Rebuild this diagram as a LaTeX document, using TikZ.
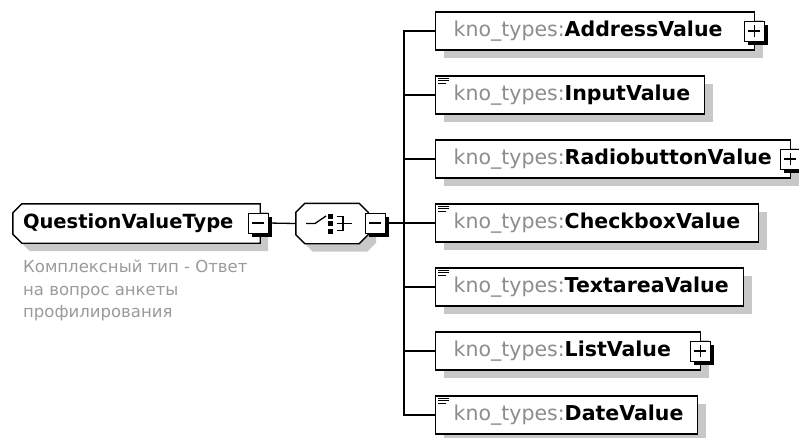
\documentclass[tikz,border=0pt]{standalone}
\usepackage{fontspec}
\setmainfont{DejaVu Sans}
\usepackage{tikz}
\usetikzlibrary{positioning,shadows,backgrounds}

\definecolor{nsgray}{HTML}{8C8C8C}
\definecolor{docgray}{HTML}{9A9A9A}
\definecolor{shadegray}{HTML}{C8C8C8}

\newcommand{\kno}[1]{{\color{nsgray}kno\_types:}\textbf{#1}}

\tikzset{
  boxshadow/.style={drop shadow={shadow xshift=8pt, shadow yshift=-8pt, fill=shadegray, opacity=1}},
  elem/.style={draw, line width=1.4pt, fill=white, anchor=west, minimum height=38pt,
    inner xsep=18pt, align=left, font=\fontsize{20.5}{24}\selectfont, boxshadow},
  simple/.style={path picture={
      \foreach \dd/\len in {2.6/11,4.9/11,7.2/8}
        \draw[line width=1.1pt] ([xshift=2.5pt,yshift=-\dd pt]path picture bounding box.north west) -- ++(\len pt,0);}},
  ctype/.style={minimum height=39pt, inner xsep=10pt, align=left, font=\fontsize{19.5}{23}\selectfont\bfseries},
  seqbox/.style={minimum width=72pt, minimum height=40pt, inner sep=0pt},
  outline/.style={draw, line width=1.4pt, fill=white, boxshadow},
  expander/.style={draw, line width=1pt, fill=white, minimum size=20pt, inner sep=0pt,
    drop shadow={shadow xshift=3.5pt, shadow yshift=-3.5pt, fill=black, opacity=1}},
  minusbox/.style={expander, path picture={
      \draw[line width=1.2pt] ([xshift=-6pt]path picture bounding box.center) -- ([xshift=6pt]path picture bounding box.center);}},
  plusbox/.style={expander, path picture={
      \draw[line width=1.2pt] ([xshift=-6pt]path picture bounding box.center) -- ([xshift=6pt]path picture bounding box.center);
      \draw[line width=1.2pt] ([yshift=-6pt]path picture bounding box.center) -- ([yshift=6pt]path picture bounding box.center);}},
  doc/.style={text=docgray, align=left, inner sep=0pt, font=\fontsize{16.5}{22.5}\selectfont},
  link/.style={line width=1.3pt}
}

\begin{document}
\begin{tikzpicture}[x=1pt, y=-1pt]

\useasboundingbox (0,0) rectangle (799,437);

% complex type
\node[ctype, minimum width=247pt, text width=227pt] (qvt) at (136.5,223.5) {QuestionValueType};
\begin{scope}[on background layer]
\draw[outline] ([xshift=9pt]qvt.north west) -- (qvt.north east) -- (qvt.south east)
  -- ([xshift=9pt]qvt.south west) -- ([yshift=9pt]qvt.south west) -- ([yshift=-9pt]qvt.north west) -- cycle;
\end{scope}
\node[minusbox] (qvtminus) at (258,223) {};
\node[doc, anchor=north west] (qvtdoc) at (23,260) {Комплексный тип - Ответ\\на вопрос анкеты\\профилирования};

% sequence
\node[seqbox] (seq) at (332,223.5) {};
\begin{scope}[on background layer]
\draw[outline] ([xshift=9pt]seq.north west) -- ([xshift=-9pt]seq.north east) -- ([yshift=-9pt]seq.north east)
  -- ([yshift=9pt]seq.south east) -- ([xshift=-9pt]seq.south east) -- ([xshift=9pt]seq.south west)
  -- ([yshift=9pt]seq.south west) -- ([yshift=-9pt]seq.north west) -- cycle;
\end{scope}
\begin{scope}[shift={(seq.center)}]
\draw[line width=1.3pt] (-26,0) -- (-17,0) -- (-6,-7.5);
\foreach \dy in {-7.5,0,7.5}
  \fill (-3.7,\dy-2.5) rectangle (1.3,\dy+2.5);
\draw[line width=1.3pt] (4.5,-7) -- (11,-7) (4.5,0) -- (19.5,0) (4.5,7) -- (11,7) (11,-7.6) -- (11,7.6);
\end{scope}
\node[minusbox] (seqminus) at (375,223) {};
\coordinate (spine) at (404,223);

%%%%%%%%%%%%%%%%%%%%%%%%%%%%%%%%

\node[elem, text width=283pt] (addr) at (435,31) {\kno{AddressValue}};
\node[elem, simple, text width=233pt] (input) at (435,95) {\kno{InputValue}};
\node[elem, text width=319pt] (radio) at (435,159) {\kno{RadiobuttonValue}};
\node[elem, simple, text width=287pt] (check) at (435,223) {\kno{CheckboxValue}};
\node[elem, simple, text width=272pt] (textarea) at (435,287) {\kno{TextareaValue}};
\node[elem, text width=229pt] (list) at (435,351) {\kno{ListValue}};
\node[elem, simple, text width=226pt] (date) at (435,415) {\kno{DateValue}};

\node[plusbox] (addrplus) at ([xshift=-1pt]addr.east) {};
\node[plusbox] (radioplus) at ([xshift=-1pt]radio.east) {};
\node[plusbox] (listplus) at ([xshift=-1pt]list.east) {};

%%%%%%%%%%%%%%%%%%%%%%%%%%%%%%%%

\draw[link] (qvtminus.east) -- (seq.west);
\draw[link] (seqminus.east) -- (spine);
\foreach \e in {addr,input,radio,check,textarea,list,date}
  \draw[link] (spine) |- (\e.west);

\end{tikzpicture}
\end{document}
